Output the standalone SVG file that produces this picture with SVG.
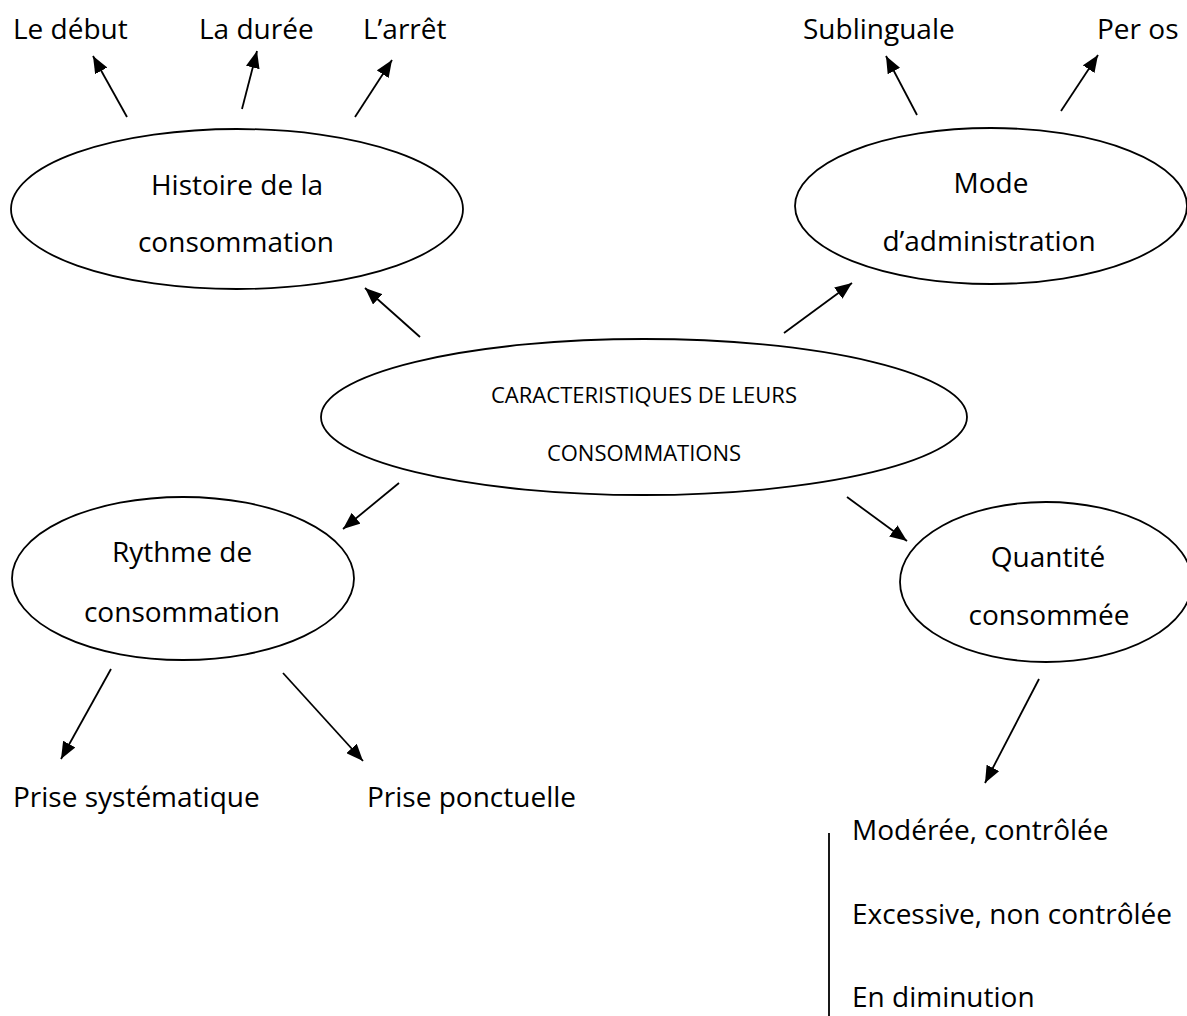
<svg xmlns="http://www.w3.org/2000/svg" width="1187" height="1016" viewBox="0 0 1187 1016">
<defs>
<style>
.bg{fill:#ffffff}
.node ellipse{fill:#ffffff;stroke:#000000;stroke-width:1.8}
text{font-family:"Open Sans","Liberation Sans",sans-serif;fill:#000000}
.lbl{font-size:28px}
.mid{text-anchor:middle}
.small{font-size:22px}
.conn line{stroke:#000000;stroke-width:1.8;marker-end:url(#ah)}
.plain{stroke:#000000;stroke-width:1.8}
</style>
<marker id="ah" markerUnits="userSpaceOnUse" markerWidth="18" markerHeight="14" refX="17" refY="7" orient="auto">
<path d="M0,0 L17,7 L0,14 z" fill="#000000"/>
</marker>
</defs>
<rect class="bg" x="0" y="0" width="1187" height="1016"/>

<g id="connectors" class="conn">
<line x1="127" y1="117" x2="93" y2="56"/>
<line x1="242" y1="109" x2="257" y2="51"/>
<line x1="355" y1="117" x2="392" y2="60"/>
<line x1="917" y1="115" x2="886" y2="56"/>
<line x1="1061" y1="111" x2="1098" y2="55"/>
<line x1="420" y1="337" x2="365" y2="288"/>
<line x1="784" y1="333" x2="852" y2="283"/>
<line x1="399" y1="483" x2="343" y2="529"/>
<line x1="847" y1="497" x2="907" y2="541"/>
<line x1="111" y1="669" x2="61" y2="759"/>
<line x1="283" y1="673" x2="363" y2="761"/>
<line x1="1039" y1="679" x2="985" y2="783"/>
</g>

<g id="node-centre" class="node">
<ellipse cx="644" cy="417" rx="323" ry="78"/>
<text class="small mid" x="644" y="403">CARACTERISTIQUES DE LEURS</text>
<text class="small mid" x="644" y="461">CONSOMMATIONS</text>
</g>

<g id="node-histoire" class="node">
<ellipse cx="237" cy="209" rx="226" ry="80"/>
<text class="lbl mid" x="237" y="195">Histoire de la</text>
<text class="lbl mid" x="236" y="252">consommation</text>
</g>

<g id="node-mode" class="node">
<ellipse cx="991" cy="206" rx="196" ry="78"/>
<text class="lbl mid" x="991" y="193">Mode</text>
<text class="lbl mid" x="989" y="251">d’administration</text>
</g>

<g id="node-rythme" class="node">
<ellipse cx="183" cy="578.5" rx="171" ry="81.5"/>
<text class="lbl mid" x="182" y="562">Rythme de</text>
<text class="lbl mid" x="182" y="622">consommation</text>
</g>

<g id="node-quantite" class="node">
<ellipse cx="1046" cy="582" rx="146" ry="80"/>
<text class="lbl mid" x="1048" y="567">Quantité</text>
<text class="lbl mid" x="1049" y="625">consommée</text>
</g>

<g id="node-debut"><text class="lbl" x="13" y="39">Le début</text></g>
<g id="node-duree"><text class="lbl" x="199" y="39">La durée</text></g>
<g id="node-arret"><text class="lbl" x="363" y="39">L’arrêt</text></g>
<g id="node-sublinguale"><text class="lbl" x="803" y="39">Sublinguale</text></g>
<g id="node-peros"><text class="lbl" x="1097" y="39">Per os</text></g>
<g id="node-systematique"><text class="lbl" x="13" y="807">Prise systématique</text></g>
<g id="node-ponctuelle"><text class="lbl" x="367" y="807">Prise ponctuelle</text></g>

<g id="node-liste">
<line class="plain" x1="829" y1="833" x2="829" y2="1016"/>
<text class="lbl" x="852" y="840">Modérée, contrôlée</text>
<text class="lbl" x="852" y="924">Excessive, non contrôlée</text>
<text class="lbl" x="852" y="1007">En diminution</text>
</g>
</svg>
